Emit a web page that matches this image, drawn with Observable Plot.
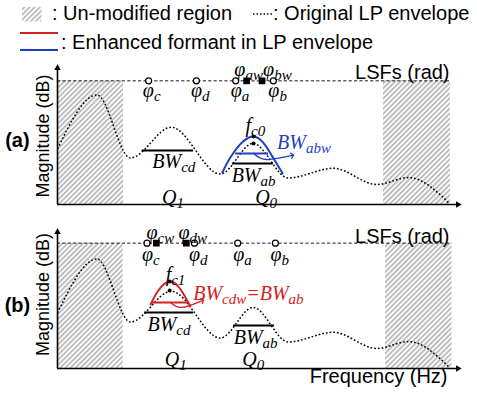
<!DOCTYPE html>
<html><head><meta charset="utf-8">
<script src="https://cdn.jsdelivr.net/npm/d3@7"></script>
<script src="https://cdn.jsdelivr.net/npm/@observablehq/plot@0.6"></script>
<style>
body{margin:0;background:#fff;}
#root{position:relative;width:477px;height:393px;overflow:hidden;font-family:"Liberation Sans",Arial,sans-serif;}
#root svg{display:block;}
</style></head><body>
<div id="root"><div id="legend"></div><div id="pa"></div><div id="pb"></div></div>
<script>
const BLUE = "#1f3fbf", RED = "#d42222";
// legend labels
const legendLabels = [": Un-modified region", ": Original LP envelope", ": Enhanced formant in LP envelope"];

// original LP envelope (shared by both panels), frequency units 0..100, magnitude 0..100
const envX = [0, 9.75, 18.0, 28.1, 40.2, 48.3, 57.0, 68.1, 78.8, 86.7, 96.8];
const envY = [39.4, 77.7, 33.0, 54.8, 21.6, 43.3, 18.8, 25.7, 14.2, 19.1, 0.7];

// enhanced formants
const blueX = [40.7, 43.5, 48.4, 52.6, 55.6];
const blueY = [22.7, 36.9, 48.2, 36.2, 22.0];
const redX = [23.0, 24.9, 27.7, 30.4, 32.8];
const redY = [45.4, 55.3, 61.7, 56.0, 44.0];

// curved arrows
const arrowAX = [48.4, 51.6, 58.0], arrowAY = [36.2, 31.9, 34.8];
const arrowBX = [27.9, 30.6, 35.8], arrowBY = [46.8, 43.3, 48.2];

// un-modified (hatched) frequency regions
const hatchA = [[0, 16.3], [80.5, 97.0]];
const hatchB = [[0, 16.2], [81.0, 97.4]];
// LSF axis level
const lsfYA = 87.7, lsfYB = 88.9;

// LSF positions
const lsfNames = ["c", "d", "a", "b"];
const lsfA = [22.5, 34.3, 44.0, 53.3];
const lsfB = [22.1, 33.8, 44.5, 53.8];
const lsfLabelXA = [22.3, 34.2, 44.0, 53.3];
const lsfLabelXB = [22.1, 33.7, 44.6, 53.8];
const warpedNamesA = ["aw", "bw"], warpedA = [46.7, 50.5], warpedLabelXA = [44.9, 52.0];
const warpedNamesB = ["cw", "dw"], warpedB = [24.4, 31.8], warpedLabelXB = [23.2, 31.1];

// bandwidth bars [x1, x2, y]
const barsA = [[20.9, 33.6, 38.3, "black"], [43.2, 53.3, 29.1, "black"], [44.0, 52.1, 36.2, BLUE]];
const barsB = [[21.5, 33.6, 39.7, "black"], [43.5, 53.6, 30.5, "black"], [23.5, 32.3, 46.8, RED]];
// formant peak dots
const peaksA = [[48.4, 48.2], [48.4, 43.3]];
const peaksB = [[27.7, 61.7], [27.7, 55.3]];

// math labels [text, x, y, color]
const mathA = [
  ["f_{c0}", 46.4, 56.0, "black"], ["BW_{cd}", 23.4, 30.5, "black"], ["BW_{ab}", 43.0, 20.6, "black"],
  ["Q_{1}", 25.8, 4.6, "black"], ["Q_{0}", 48.8, 4.6, "black"], ["BW_{abw}", 54.2, 44.0, BLUE]
];
const mathB = [
  ["f_{c1}", 26.7, 66.6, "black"], ["BW_{cd}", 22.2, 31.2, "black"], ["BW_{ab}", 43.5, 22.0, "black"],
  ["Q_{1}", 26.5, 6.6, "black"], ["Q_{0}", 45.6, 6.6, "black"], ["BW_{cdw}=BW_{ab}", 33.5, 53.2, RED]
];
const panelLabels = ["(a)", "(b)"];
const yLabel = "Magnitude (dB)", lsfLabel = "LSFs (rad)", xLabel = "Frequency (Hz)";

function richify(root) {
  const ns = "http://www.w3.org/2000/svg";
  root.querySelectorAll("text").forEach(t => {
    const s = t.textContent;
    if (!s.includes("_{")) return;
    const fs = parseFloat(getComputedStyle(t).fontSize) || 20;
    const sub = Math.round(fs * 0.76), shift = fs * 0.2;
    const parts = s.split(/_\{([^}]*)\}/);
    t.textContent = "";
    let shifted = false;
    parts.forEach((p, i) => {
      if (p === "") return;
      const ts = document.createElementNS(ns, "tspan");
      ts.textContent = p;
      if (i % 2 === 1) { ts.setAttribute("font-size", sub); ts.setAttribute("dy", shift); shifted = true; }
      else if (shifted) { ts.setAttribute("dy", -shift); shifted = false; }
      t.appendChild(ts);
    });
  });
}

function addHatch(svg, id) {
  const defs = d3.select(svg).insert("defs", ":first-child");
  const p = defs.append("pattern").attr("id", id).attr("patternUnits", "userSpaceOnUse")
    .attr("width", 3.6).attr("height", 3.6).attr("patternTransform", "rotate(45)");
  p.append("rect").attr("width", 3.6).attr("height", 3.6).attr("fill", "#fafafa");
  p.append("rect").attr("width", 1.6).attr("height", 3.6).attr("fill", "#b6b6b6");
}

function panel(cfg) {
  const zip = (xs, ys) => xs.map((x, i) => ({x, y: ys[i]}));
  const env = zip(envX, envY);
  const enh = zip(cfg.enhX, cfg.enhY);
  const arr = zip(cfg.arrX, cfg.arrY);
  const hatch = cfg.hatch.map(([x1, x2]) => ({x1, x2}));
  const circles = cfg.lsf.map((x, i) => ({x, name: lsfNames[i]}));
  const circleLabels = cfg.lsfLabelX.map((x, i) => ({x, t: "φ_{" + lsfNames[i] + "}"}));
  const squares = cfg.warped.map((x) => ({x}));
  const squareLabels = cfg.warpedLabelX.map((x, i) => ({x, t: "φ_{" + cfg.warpedNames[i] + "}"}));
  const bars = cfg.bars.map(([x1, x2, y, c]) => ({x1, x2, y, c}));
  const peaks = cfg.peaks.map(([x, y]) => ({x, y}));
  const math = cfg.math.map(([t, x, y, c]) => ({t, x, y, c}));
  const serif = {fontFamily: "Liberation Serif, Times New Roman, serif", fontStyle: "italic", fontSize: 20, textAnchor: "start", lineAnchor: "middle"};
  const marks = [
    Plot.rect(hatch, {x1: "x1", x2: "x2", y1: 0, y2: cfg.lsfY, fill: "url(#" + cfg.id + ")"}),
    Plot.ruleY([cfg.lsfY], {x1: 0, x2: cfg.hatch[1][1], stroke: "black", strokeWidth: 0.9, strokeDasharray: "3.2,2.2"}),
    Plot.ruleX([0], {y1: 0, y2: 97.5, stroke: "black", strokeWidth: 1.6}),
    Plot.ruleY([0], {x1: 0, x2: 98.5, stroke: "black", strokeWidth: 1.6}),
    Plot.dot([{x: 0, y: 100}], {x: "x", y: "y", symbol: "triangle2", r: 3.1, fill: "black", stroke: "none", dy: 4.6}),
    Plot.dot([{x: 100, y: 0}], {x: "x", y: "y", symbol: "triangle2", r: 3.1, fill: "black", stroke: "none", rotate: 90, dx: -4.6}),
    Plot.line(env, {x: "x", y: "y", curve: "monotone-x", stroke: "black", strokeWidth: 1.5, strokeDasharray: "1.7,2", strokeLinecap: "butt"}),
    Plot.line(enh, {x: "x", y: "y", curve: "natural", stroke: cfg.color, strokeWidth: 2}),
    Plot.ruleY(bars, {y: "y", x1: "x1", x2: "x2", stroke: "c", strokeWidth: 2}),
    Plot.line(arr, {x: "x", y: "y", curve: "natural", stroke: cfg.color, strokeWidth: 1.3, markerEnd: "arrow"}),
    Plot.dot(peaks, {x: "x", y: "y", r: 2, fill: "black", stroke: "none"}),
    Plot.dot(circles, {x: "x", y: cfg.lsfY, r: 3, fill: "white", stroke: "black", strokeWidth: 1.2}),
    Plot.dot(squares, {x: "x", y: cfg.lsfY, symbol: "square", r: 3.8, fill: "black", stroke: "none"}),
    Plot.text(circleLabels, {x: "x", y: 81.0, text: "t", dx: -5, ...serif}),
    Plot.text(squareLabels, {x: "x", y: cfg.warpedLabelY, text: "t", dx: -5, ...serif}),
    Plot.text(math, {x: "x", y: "y", text: "t", fill: "c", ...serif}),
    Plot.text([cfg.panelLabel], {x: -9.9, y: cfg.panelLabelY, text: d => d, fontSize: 20, fontWeight: "bold", textAnchor: "middle", lineAnchor: "middle"}),
    Plot.text([yLabel], {x: -3.5, y: cfg.yLabelY, text: d => d, fontSize: 18, rotate: -90, textAnchor: "middle", lineAnchor: "middle"}),
    Plot.text([lsfLabel], {x: 96.8, y: 93.6, text: d => d, fontSize: 20, textAnchor: "end", lineAnchor: "middle"})
  ];
  if (cfg.xLabel) marks.push(Plot.text([cfg.xLabel], {x: 96.3, y: -6, text: d => d, fontSize: 20, textAnchor: "end", lineAnchor: "middle"}));
  const svg = Plot.plot({
    width: 477, height: cfg.height,
    marginLeft: 57, marginRight: 15, marginTop: cfg.mt, marginBottom: cfg.mb,
    x: {domain: [0, 100], axis: null},
    y: {domain: [0, 100], axis: null},
    color: {type: "identity"},
    style: {fontFamily: "Liberation Sans, Arial, sans-serif", overflow: "visible", background: "transparent"},
    marks
  });
  addHatch(svg, cfg.id);
  richify(svg);
  return svg;
}

// legend
(function () {
  const svg = d3.create("svg").attr("width", 477).attr("height", 58).attr("font-family", "Liberation Sans, Arial, sans-serif");
  const node = svg.node();
  addHatch(node, "hatchL");
  svg.append("rect").attr("x", 22).attr("y", 7).attr("width", 19.5).attr("height", 14.5).attr("fill", "url(#hatchL)");
  svg.append("line").attr("x1", 253).attr("x2", 273).attr("y1", 14).attr("y2", 14).attr("stroke", "black").attr("stroke-width", 1.3).attr("stroke-dasharray", "1.5,2");
  svg.append("line").attr("x1", 20).attr("x2", 58).attr("y1", 33).attr("y2", 33).attr("stroke", RED).attr("stroke-width", 2);
  svg.append("line").attr("x1", 20).attr("x2", 58).attr("y1", 50).attr("y2", 50).attr("stroke", BLUE).attr("stroke-width", 2);
  svg.append("text").attr("x", 52).attr("y", 19.5).attr("font-size", 20).text(legendLabels[0]);
  svg.append("text").attr("x", 273).attr("y", 19.5).attr("font-size", 20).text(legendLabels[1]);
  svg.append("text").attr("x", 61).attr("y", 49).attr("font-size", 20).text(legendLabels[2]);
  document.getElementById("legend").appendChild(node);
})();

document.getElementById("pa").appendChild(panel({
  id: "hatchA", height: 150, mt: 5, mb: 4, hatch: hatchA, lsfY: lsfYA,
  lsf: lsfA, lsfLabelX: lsfLabelXA, warped: warpedA, warpedNames: warpedNamesA, warpedLabelX: warpedLabelXA, warpedLabelY: 95.9,
  enhX: blueX, enhY: blueY, arrX: arrowAX, arrY: arrowAY, color: BLUE,
  bars: barsA, peaks: peaksA, math: mathA, panelLabel: panelLabels[0], panelLabelY: 45.4, yLabelY: 48.6
}));
document.getElementById("pb").appendChild(panel({
  id: "hatchB", height: 185, mt: 19, mb: 25, hatch: hatchB, lsfY: lsfYB,
  lsf: lsfB, lsfLabelX: lsfLabelXB, warped: warpedB, warpedNames: warpedNamesB, warpedLabelX: warpedLabelXB, warpedLabelY: 96.7,
  enhX: redX, enhY: redY, arrX: arrowBX, arrY: arrowBY, color: RED,
  bars: barsB, peaks: peaksB, math: mathB, panelLabel: panelLabels[1], panelLabelY: 44.7, yLabelY: 52.5, xLabel: xLabel
}));
</script>
</body></html>
